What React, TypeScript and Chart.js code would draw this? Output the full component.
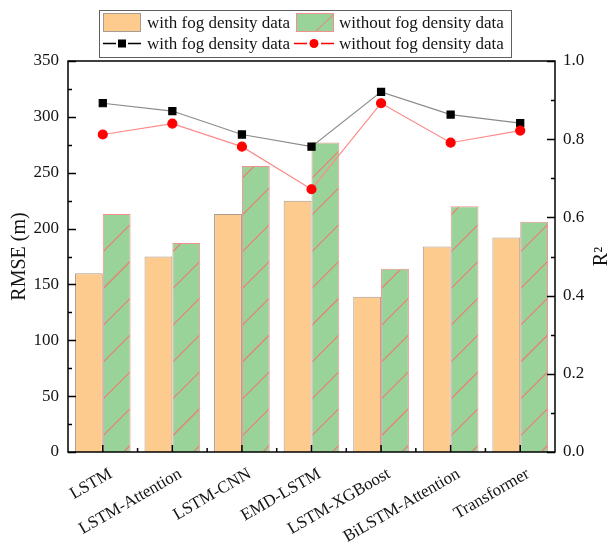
import React, { useEffect, useRef } from "react";
import { Chart, registerables } from "chart.js";

Chart.register(...registerables);

const categories = [
  "LSTM",
  "LSTM-Attention",
  "LSTM-CNN",
  "EMD-LSTM",
  "LSTM-XGBoost",
  "BiLSTM-Attention",
  "Transformer",
];
const rmseWithFog = [160, 175, 213, 225, 139, 184, 192];
const rmseWithoutFog = [213, 187, 256, 277, 164, 220, 206];
const r2WithFog = [0.892, 0.872, 0.812, 0.781, 0.921, 0.863, 0.841];
const r2WithoutFog = [0.812, 0.84, 0.781, 0.672, 0.892, 0.791, 0.822];

const legendLabels = ["with fog density data", "without fog density data"];
const yTitle = "RMSE (m)";
const y2Title = "R²";

const FONT = "'Liberation Serif', 'Times New Roman', serif";
const ORANGE = "#FECB8F";
const ORANGE_BORDER = "#A89C90";
const GREEN = "#99D39A";
const GREEN_BORDER = "#F29090";
const HATCH = "#F07A6E";
const TEXT = "#141414";

const hatchPlugin = {
  id: "hatchPlugin",
  afterDatasetDraw(chart: any, args: any) {
    if (args.index !== 3) return;
    const ctx: CanvasRenderingContext2D = chart.ctx;
    const meta = chart.getDatasetMeta(3);
    ctx.save();
    ctx.strokeStyle = HATCH;
    ctx.lineWidth = 1.1;
    for (const el of meta.data) {
      const p = el.getProps(["x", "y", "base", "width"], true);
      const left = p.x - p.width / 2;
      const right = p.x + p.width / 2;
      const top = Math.min(p.y, p.base);
      const bottom = Math.max(p.y, p.base);
      const w = right - left;
      ctx.save();
      ctx.beginPath();
      ctx.rect(left + 1, top + 1, w - 2, bottom - top - 2);
      ctx.clip();
      ctx.beginPath();
      for (let yr = bottom - 7 + 36.8; yr + w > top - 40; yr -= 36.8) {
        ctx.moveTo(right + 4, yr - 4);
        ctx.lineTo(left - 4, yr + w + 4);
      }
      ctx.stroke();
      ctx.restore();
    }
    ctx.restore();
  },
};

const framePlugin = {
  id: "framePlugin",
  afterDraw(chart: any) {
    const ctx: CanvasRenderingContext2D = chart.ctx;
    const { left, right, top, bottom } = chart.chartArea;
    const y = chart.scales.y;
    const y2 = chart.scales.y2;
    const x = chart.scales.x;
    ctx.save();
    ctx.strokeStyle = "#000";
    ctx.lineWidth = 1.5;
    ctx.strokeRect(left, top, right - left, bottom - top);
    ctx.beginPath();
    for (let v = 0; v <= 350; v += 25) {
      const py = Math.round(y.getPixelForValue(v)) + 0.5;
      const len = v % 50 === 0 ? 8 : 4;
      ctx.moveTo(left, py);
      ctx.lineTo(left + len, py);
    }
    for (let i = 0; i <= 10; i++) {
      const v = i / 10;
      const py = Math.round(y2.getPixelForValue(v)) + 0.5;
      const len = i % 2 === 0 ? 8 : 4;
      ctx.moveTo(right, py);
      ctx.lineTo(right - len, py);
    }
    const n = categories.length;
    const step = (right - left) / n;
    for (let i = 0; i < n; i++) {
      const px = x.getPixelForValue(i);
      ctx.moveTo(px, bottom);
      ctx.lineTo(px, bottom - 7);
    }
    for (let i = 1; i < n; i++) {
      const px = left + step * i;
      ctx.moveTo(px, bottom);
      ctx.lineTo(px, bottom - 4);
    }
    ctx.stroke();

    // axis titles
    ctx.fillStyle = TEXT;
    ctx.font = `20px ${FONT}`;
    ctx.textAlign = "center";
    ctx.textBaseline = "middle";
    ctx.save();
    ctx.translate(20, (top + bottom) / 2);
    ctx.rotate(-Math.PI / 2);
    ctx.fillText(yTitle, 0, 0);
    ctx.restore();
    ctx.save();
    ctx.translate(602, (top + bottom) / 2);
    ctx.rotate(-Math.PI / 2);
    ctx.fillText(y2Title, 0, 0);
    ctx.restore();

    // legend
    const bx = 99.5, by = 10.5, bw = 412, bh = 47;
    ctx.strokeStyle = "#606060";
    ctx.lineWidth = 1;
    ctx.strokeRect(bx, by, bw, bh);
    const r1 = 23, r2 = 43.5;
    ctx.font = `17px ${FONT}`;
    ctx.textAlign = "left";
    ctx.textBaseline = "middle";
    ctx.fillStyle = ORANGE;
    ctx.fillRect(103, 13, 38, 19);
    ctx.strokeStyle = ORANGE_BORDER;
    ctx.strokeRect(103.5, 13.5, 37, 18);
    ctx.fillStyle = TEXT;
    ctx.fillText(legendLabels[0], 147, r1 + 1);
    ctx.fillStyle = GREEN;
    ctx.fillRect(296, 13, 38, 19);
    ctx.strokeStyle = HATCH;
    ctx.beginPath();
    ctx.moveTo(315, 32);
    ctx.lineTo(334, 14);
    ctx.stroke();
    ctx.strokeStyle = GREEN_BORDER;
    ctx.strokeRect(296.5, 13.5, 37, 18);
    ctx.fillStyle = TEXT;
    ctx.fillText(legendLabels[1], 339, r1 + 1);
    ctx.strokeStyle = "#000";
    ctx.lineWidth = 1.5;
    ctx.beginPath();
    ctx.moveTo(103, r2);
    ctx.lineTo(116, r2);
    ctx.moveTo(128, r2);
    ctx.lineTo(141, r2);
    ctx.stroke();
    ctx.fillStyle = "#000";
    ctx.fillRect(118, r2 - 4, 8, 8);
    ctx.fillStyle = TEXT;
    ctx.fillText(legendLabels[0], 147, r2 + 1);
    ctx.strokeStyle = "#FF0000";
    ctx.beginPath();
    ctx.moveTo(294, r2);
    ctx.lineTo(307, r2);
    ctx.moveTo(321, r2);
    ctx.lineTo(334, r2);
    ctx.stroke();
    ctx.fillStyle = "#FF0000";
    ctx.beginPath();
    ctx.arc(314, r2, 4.5, 0, Math.PI * 2);
    ctx.fill();
    ctx.fillStyle = TEXT;
    ctx.fillText(legendLabels[1], 339, r2 + 1);
    ctx.restore();
  },
};

export default function App() {
  const ref = useRef<HTMLCanvasElement | null>(null);
  useEffect(() => {
    const canvas = ref.current;
    if (!canvas) return;
    const ctx = canvas.getContext("2d");
    if (!ctx) return;
    const chart = new Chart(ctx, {
      type: "bar",
      data: {
        labels: categories,
        datasets: [
          {
            type: "line",
            label: legendLabels[0] + " R2",
            data: r2WithFog,
            yAxisID: "y2",
            borderColor: "#8A8A8A",
            borderWidth: 1.2,
            backgroundColor: "#000",
            pointStyle: "rect",
            pointRadius: 5,
            pointBorderColor: "#000",
            pointBackgroundColor: "#000",
            order: 1,
          } as any,
          {
            type: "line",
            label: legendLabels[1] + " R2",
            data: r2WithoutFog,
            yAxisID: "y2",
            borderColor: "#FF8A8A",
            borderWidth: 1.2,
            backgroundColor: "#FF0000",
            pointStyle: "circle",
            pointRadius: 4.5,
            pointBorderColor: "#FF0000",
            pointBackgroundColor: "#FF0000",
            order: 0,
          } as any,
          {
            label: legendLabels[0],
            data: rmseWithFog,
            yAxisID: "y",
            backgroundColor: ORANGE,
            borderColor: ORANGE_BORDER,
            borderWidth: 1,
            categoryPercentage: 0.8,
            barPercentage: 1.0,
            order: 2,
          },
          {
            label: legendLabels[1],
            data: rmseWithoutFog,
            yAxisID: "y",
            backgroundColor: GREEN,
            borderColor: GREEN_BORDER,
            borderWidth: 1,
            categoryPercentage: 0.8,
            barPercentage: 1.0,
            order: 2,
          },
        ],
      },
      options: {
        animation: false,
        responsive: true,
        maintainAspectRatio: false,
        layout: { padding: { top: 61, left: 0, right: 0, bottom: 0 } },
        plugins: {
          legend: { display: false },
          tooltip: { enabled: false },
        },
        scales: {
          x: {
            grid: { display: false, drawTicks: false },
            border: { display: false },
            ticks: {
              color: TEXT,
              font: { family: FONT, size: 17 },
              minRotation: 30,
              maxRotation: 30,
              padding: 12,
              labelOffset: 8,
            },
            afterFit: (s: any) => {
              s.height = 92;
            },
          },
          y: {
            position: "left",
            min: 0,
            max: 350,
            grid: { display: false, drawTicks: false },
            border: { display: false },
            ticks: {
              stepSize: 50,
              color: TEXT,
              font: { family: FONT, size: 17 },
              padding: 9,
            },
            afterFit: (s: any) => {
              s.width = 68;
            },
          },
          y2: {
            position: "right",
            min: 0,
            max: 1,
            grid: { display: false, drawTicks: false },
            border: { display: false },
            ticks: {
              stepSize: 0.2,
              color: TEXT,
              font: { family: FONT, size: 17 },
              padding: 8,
              callback: (v: any) => Number(v).toFixed(1),
            },
            afterFit: (s: any) => {
              s.width = 56;
            },
          },
        },
      },
      plugins: [hatchPlugin, framePlugin],
    });
    return () => chart.destroy();
  }, []);
  return (
    <div
      style={{
        position: "fixed",
        left: 0,
        top: 0,
        width: 611,
        height: 544,
        background: "#fff",
      }}
    >
      <canvas ref={ref} />
    </div>
  );
}
